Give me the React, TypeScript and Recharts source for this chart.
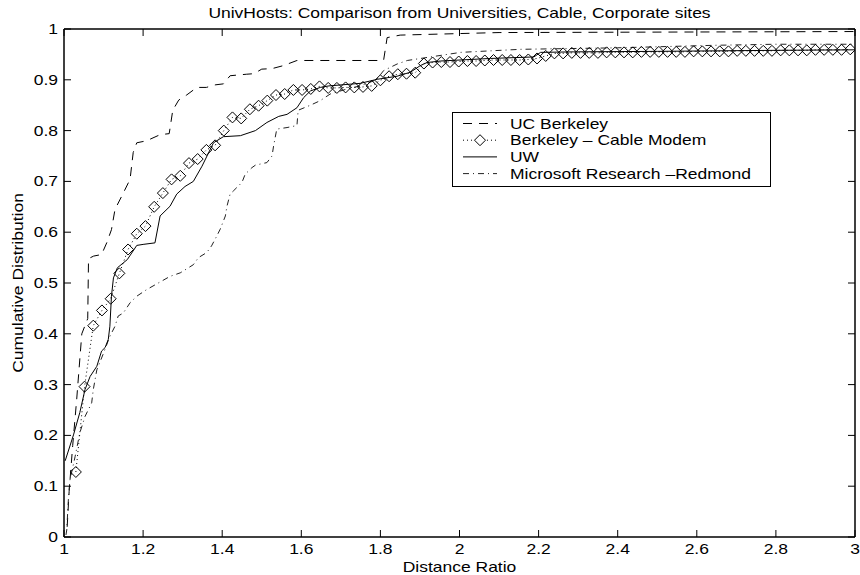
import React from 'react';
import { LineChart, Line, XAxis, YAxis, Legend, Label } from 'recharts';

// Typography: Helvetica-like face, drawn slightly wide
const FONT = '"Liberation Sans", Arial, Helvetica, sans-serif';
const FS = 14;
const SX = 1.25;

const TITLE = 'UnivHosts: Comparison from Universities, Cable, Corporate sites';
const X_LABEL = 'Distance Ratio';
const Y_LABEL = 'Cumulative Distribution';

const xTicks = [1, 1.2, 1.4, 1.6, 1.8, 2, 2.2, 2.4, 2.6, 2.8, 3];
const yTicks = [0, 0.1, 0.2, 0.3, 0.4, 0.5, 0.6, 0.7, 0.8, 0.9, 1];

// UC Berkeley
const berkeleyX = [1.008, 1.013, 1.022, 1.032, 1.045, 1.060, 1.062, 1.075, 1.095, 1.108, 1.120, 1.129, 1.146, 1.167, 1.175, 1.184, 1.209, 1.243, 1.266, 1.275, 1.290, 1.310, 1.336, 1.360, 1.382, 1.403, 1.420, 1.462, 1.480, 1.500, 1.526, 1.555, 1.589, 1.808, 1.817, 1.850, 1.950, 2.100, 3.000];
const berkeleyY = [0.020, 0.090, 0.180, 0.270, 0.400, 0.430, 0.548, 0.553, 0.556, 0.579, 0.605, 0.645, 0.671, 0.704, 0.757, 0.776, 0.780, 0.792, 0.794, 0.840, 0.860, 0.870, 0.885, 0.885, 0.890, 0.892, 0.908, 0.911, 0.912, 0.921, 0.922, 0.928, 0.938, 0.938, 0.983, 0.988, 0.990, 0.993, 0.995];

// Berkeley - Cable Modem
const cableX = [1.030, 1.052, 1.074, 1.096, 1.118, 1.140, 1.162, 1.184, 1.206, 1.228, 1.250, 1.272, 1.294, 1.316, 1.338, 1.360, 1.382, 1.404, 1.426, 1.448, 1.470, 1.492, 1.514, 1.536, 1.558, 1.580, 1.602, 1.624, 1.646, 1.668, 1.690, 1.712, 1.734, 1.756, 1.778, 1.800, 1.822, 1.844, 1.866, 1.888, 1.910, 1.932, 1.954, 1.976, 1.998, 2.020, 2.042, 2.064, 2.086, 2.108, 2.130, 2.152, 2.174, 2.196, 2.218, 2.240, 2.262, 2.284, 2.306, 2.328, 2.350, 2.372, 2.394, 2.416, 2.438, 2.460, 2.482, 2.504, 2.526, 2.548, 2.570, 2.592, 2.614, 2.636, 2.658, 2.680, 2.702, 2.724, 2.746, 2.768, 2.790, 2.812, 2.834, 2.856, 2.878, 2.900, 2.922, 2.944, 2.966, 2.988];
const cableY = [0.128, 0.296, 0.416, 0.446, 0.469, 0.519, 0.566, 0.597, 0.612, 0.650, 0.677, 0.704, 0.711, 0.736, 0.744, 0.762, 0.771, 0.800, 0.826, 0.824, 0.842, 0.849, 0.859, 0.870, 0.872, 0.880, 0.880, 0.882, 0.887, 0.884, 0.884, 0.885, 0.885, 0.886, 0.888, 0.899, 0.907, 0.911, 0.912, 0.914, 0.932, 0.934, 0.935, 0.935, 0.936, 0.937, 0.937, 0.938, 0.939, 0.939, 0.939, 0.939, 0.940, 0.942, 0.947, 0.952, 0.952, 0.953, 0.953, 0.953, 0.953, 0.954, 0.954, 0.954, 0.954, 0.955, 0.955, 0.955, 0.955, 0.955, 0.955, 0.956, 0.956, 0.956, 0.956, 0.956, 0.957, 0.957, 0.957, 0.957, 0.957, 0.958, 0.958, 0.958, 0.958, 0.959, 0.959, 0.959, 0.959, 0.960];

// UW
const uwX = [1.003, 1.024, 1.040, 1.053, 1.066, 1.083, 1.095, 1.104, 1.112, 1.116, 1.120, 1.125, 1.135, 1.160, 1.184, 1.200, 1.230, 1.243, 1.268, 1.285, 1.306, 1.327, 1.349, 1.378, 1.403, 1.446, 1.484, 1.513, 1.543, 1.564, 1.589, 1.606, 1.623, 1.648, 1.670, 1.749, 1.792, 1.842, 1.876, 1.901, 1.918, 1.952, 2.078, 2.188, 2.205, 2.289, 2.500, 2.800, 3.000];
const uwY = [0.150, 0.201, 0.245, 0.290, 0.316, 0.336, 0.366, 0.373, 0.389, 0.415, 0.474, 0.510, 0.530, 0.546, 0.574, 0.576, 0.579, 0.632, 0.651, 0.675, 0.690, 0.700, 0.730, 0.776, 0.788, 0.790, 0.800, 0.816, 0.828, 0.832, 0.845, 0.865, 0.878, 0.885, 0.888, 0.893, 0.901, 0.907, 0.915, 0.928, 0.934, 0.937, 0.942, 0.945, 0.954, 0.955, 0.956, 0.958, 0.959];

// Microsoft Research - Redmond
const msrX = [1.005, 1.007, 1.011, 1.015, 1.028, 1.040, 1.053, 1.070, 1.074, 1.083, 1.100, 1.116, 1.129, 1.137, 1.150, 1.167, 1.184, 1.209, 1.243, 1.268, 1.294, 1.327, 1.340, 1.361, 1.373, 1.386, 1.395, 1.408, 1.412, 1.420, 1.428, 1.450, 1.458, 1.475, 1.484, 1.513, 1.526, 1.530, 1.538, 1.564, 1.589, 1.592, 1.623, 1.648, 1.673, 1.716, 1.749, 1.790, 1.808, 1.842, 1.868, 1.893, 2.003, 2.078, 2.154, 2.400, 2.650, 2.800, 3.000];
const msrY = [0.004, 0.014, 0.073, 0.112, 0.158, 0.205, 0.237, 0.264, 0.290, 0.329, 0.362, 0.395, 0.415, 0.435, 0.441, 0.461, 0.474, 0.487, 0.502, 0.513, 0.520, 0.536, 0.550, 0.560, 0.573, 0.592, 0.606, 0.632, 0.651, 0.675, 0.681, 0.698, 0.714, 0.727, 0.732, 0.737, 0.750, 0.770, 0.803, 0.806, 0.810, 0.840, 0.850, 0.859, 0.872, 0.882, 0.888, 0.900, 0.918, 0.931, 0.938, 0.941, 0.954, 0.957, 0.960, 0.963, 0.968, 0.970, 0.970];

const toPoints = (xs: number[], ys: number[]) => xs.map((x, i) => ({ x, y: ys[i] }));

const berkeleyData = toPoints(berkeleyX, berkeleyY);
const cableData = toPoints(cableX, cableY);
const uwData = toPoints(uwX, uwY);
const msrData = toPoints(msrX, msrY);

const SERIES = [
  { name: 'UC Berkeley', dash: '9 7', marker: false, color: '#000' },
  { name: 'Berkeley \u2013 Cable Modem', dash: '1 3', marker: true, color: '#000' },
  { name: 'UW', dash: undefined as string | undefined, marker: false, color: '#000' },
  { name: 'Microsoft Research \u2013Redmond', dash: '6 4 1 4', marker: false, color: '#222' },
];

const fmt = (v: number) => String(Number(v.toFixed(1)));

function SText(props: { x: number; y: number; anchor?: string; rotate?: number; children: React.ReactNode }) {
  const { x, y, anchor = 'start', rotate = 0, children } = props;
  const tr = `translate(${x},${y})${rotate ? ` rotate(${rotate})` : ''} scale(${SX},1)`;
  return (
    <text transform={tr} textAnchor={anchor as any} fontFamily={FONT} fontSize={FS} fill="#000">
      {children}
    </text>
  );
}

const TICK = 7;

const BottomTick = (p: any) => (
  <g>
    <line x1={p.x} y1={p.y} x2={p.x} y2={p.y - TICK} stroke="#000" strokeWidth={1} />
    <SText x={p.x} y={p.y + 17} anchor="middle">{fmt(p.payload.value)}</SText>
  </g>
);

const TopTick = (p: any) => (
  <line x1={p.x} y1={p.y} x2={p.x} y2={p.y + TICK} stroke="#000" strokeWidth={1} />
);

const LeftTick = (p: any) => (
  <g>
    <line x1={p.x} y1={p.y} x2={p.x + TICK} y2={p.y} stroke="#000" strokeWidth={1} />
    <SText x={p.x - 6} y={p.y + 5} anchor="end">{fmt(p.payload.value)}</SText>
  </g>
);

const RightTick = (p: any) => (
  <line x1={p.x} y1={p.y} x2={p.x - TICK} y2={p.y} stroke="#000" strokeWidth={1} />
);

const Diamond = (p: any) => {
  const { cx, cy, index } = p;
  if (cx == null || cy == null) return <g key={`d${index}`} />;
  const r = 5.5;
  return (
    <path
      key={`d${index}`}
      d={`M${cx},${cy - r}L${cx + r},${cy}L${cx},${cy + r}L${cx - r},${cy}Z`}
      fill="none"
      stroke="#000"
      strokeWidth={1}
    />
  );
};

const LegendBox = () => {
  const w = 318;
  const h = 74;
  return (
    <svg width={w + 2} height={h + 2} style={{ display: 'block' }}>
      <rect x={0.5} y={0.5} width={w} height={h} fill="#fff" stroke="#000" strokeWidth={1} />
      {SERIES.map((s, i) => {
        const base = 16.5 + i * 16.7;
        const ly = base - 5;
        return (
          <g key={s.name}>
            <line x1={11} y1={ly} x2={45} y2={ly} stroke={s.color} strokeWidth={1} strokeDasharray={s.dash} />
            {s.marker && (
              <path d={`M28,${ly - 5.5}L33.5,${ly}L28,${ly + 5.5}L22.5,${ly}Z`} fill="#fff" stroke="#000" strokeWidth={1} />
            )}
            <SText x={58} y={base}>{s.name}</SText>
          </g>
        );
      })}
    </svg>
  );
};

const axisLine = { stroke: '#000', strokeWidth: 1.5 };

export default function App() {
  return (
    <div style={{ position: 'absolute', left: 0, top: 0, background: '#fff' }}>
      <LineChart width={860} height={575} margin={{ top: 28, right: 4, bottom: 8, left: 24 }}>
        <XAxis
          xAxisId="b"
          dataKey="x"
          type="number"
          domain={[1, 3]}
          ticks={xTicks}
          interval={0}
          allowDataOverflow
          height={30}
          tickSize={0}
          tickMargin={0}
          tickLine={false}
          axisLine={axisLine}
          tick={<BottomTick />}
        >
          <Label
            content={(lp: any) => {
              const vb = lp.viewBox || { x: 64, y: 537, width: 791 };
              return <SText x={vb.x + vb.width / 2} y={vb.y + 34.5} anchor="middle">{X_LABEL}</SText>;
            }}
          />
        </XAxis>
        <XAxis
          xAxisId="t"
          orientation="top"
          dataKey="x"
          type="number"
          domain={[1, 3]}
          ticks={xTicks}
          interval={0}
          allowDataOverflow
          height={1}
          tickSize={0}
          tickMargin={0}
          tickLine={false}
          axisLine={axisLine}
          tick={<TopTick />}
        >
          <Label
            content={(lp: any) => {
              const vb = lp.viewBox || { x: 64, y: 28, width: 791 };
              return <SText x={vb.x + vb.width / 2} y={vb.y - 10.5} anchor="middle">{TITLE}</SText>;
            }}
          />
        </XAxis>
        <YAxis
          yAxisId="l"
          type="number"
          domain={[0, 1]}
          ticks={yTicks}
          interval={0}
          allowDataOverflow
          width={40}
          tickSize={0}
          tickMargin={0}
          tickLine={false}
          axisLine={axisLine}
          tick={<LeftTick />}
        >
          <Label
            content={(lp: any) => {
              const vb = lp.viewBox || { x: 24, y: 29, height: 508 };
              return (
                <SText x={vb.x - 1} y={vb.y + vb.height / 2} anchor="middle" rotate={-90}>
                  {Y_LABEL}
                </SText>
              );
            }}
          />
        </YAxis>
        <YAxis
          yAxisId="r"
          orientation="right"
          type="number"
          domain={[0, 1]}
          ticks={yTicks}
          interval={0}
          allowDataOverflow
          width={1}
          tickSize={0}
          tickMargin={0}
          tickLine={false}
          axisLine={axisLine}
          tick={<RightTick />}
        />
        <Legend
          layout="vertical"
          align="center"
          verticalAlign="middle"
          width={320}
          height={76}
          wrapperStyle={{ left: 452, top: 112, width: 320, height: 76 }}
          content={() => <LegendBox />}
        />
        <Line
          xAxisId="b"
          yAxisId="l"
          data={berkeleyData}
          dataKey="y"
          name={SERIES[0].name}
          type="linear"
          stroke={SERIES[0].color}
          strokeWidth={1}
          strokeDasharray={SERIES[0].dash}
          dot={false}
          activeDot={false}
          isAnimationActive={false}
        />
        <Line
          xAxisId="b"
          yAxisId="l"
          data={msrData}
          dataKey="y"
          name={SERIES[3].name}
          type="linear"
          stroke={SERIES[3].color}
          strokeWidth={1}
          strokeDasharray={SERIES[3].dash}
          dot={false}
          activeDot={false}
          isAnimationActive={false}
        />
        <Line
          xAxisId="b"
          yAxisId="l"
          data={uwData}
          dataKey="y"
          name={SERIES[2].name}
          type="linear"
          stroke={SERIES[2].color}
          strokeWidth={1}
          dot={false}
          activeDot={false}
          isAnimationActive={false}
        />
        <Line
          xAxisId="b"
          yAxisId="l"
          data={cableData}
          dataKey="y"
          name={SERIES[1].name}
          type="linear"
          stroke={SERIES[1].color}
          strokeWidth={1}
          strokeDasharray={SERIES[1].dash}
          dot={Diamond}
          activeDot={false}
          isAnimationActive={false}
        />
      </LineChart>
    </div>
  );
}
